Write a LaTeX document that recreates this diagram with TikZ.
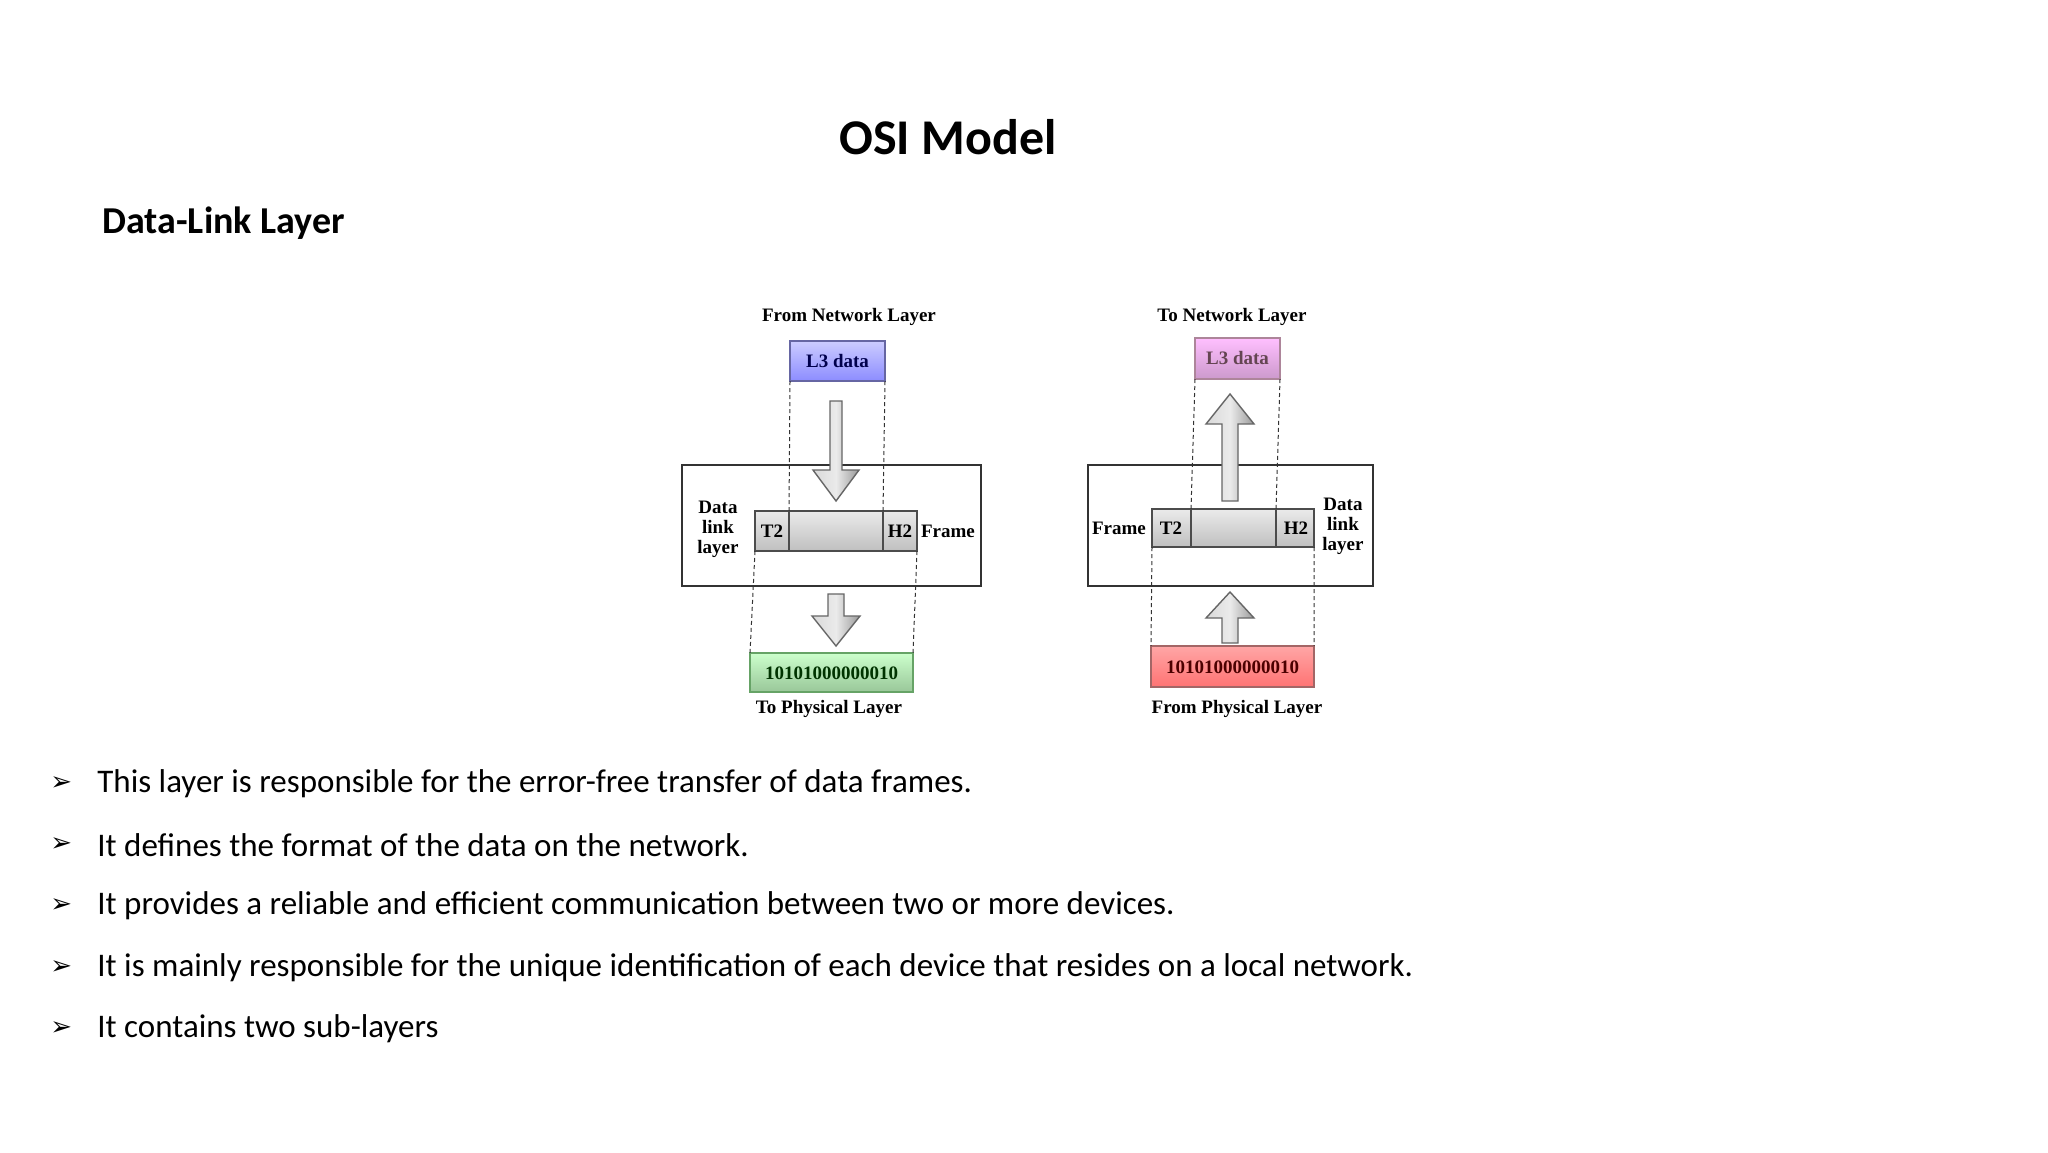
\documentclass[tikz,border=0pt]{standalone}
\usepackage{fontspec}
\setmainfont{Carlito}
\newfontfamily\serifb{Liberation Serif}[Scale=1.0]
\begin{document}
\begin{tikzpicture}[x=0.5pt,y=-0.5pt,
  lbl/.style={font=\serifb\bfseries\fontsize{9.5}{10}\selectfont, inner sep=0pt, align=center},
  box/.style={draw=black!80, line width=0.6pt},
  dsh/.style={draw=black!80, dashed, dash pattern=on 2pt off 1.5pt, line width=0.5pt},
  bar/.style={draw=black!70, line width=0.6pt, top color=black!8, bottom color=black!25},
  arr/.style={draw=black!60, line width=0.7pt, left color=black!15, right color=black!40, middle color=black!8},
  bullet/.style={anchor=west, inner sep=0pt, font=\fontsize{16.5}{18}\selectfont}]
\useasboundingbox (0,0) rectangle (2048,1152);
\fill[white] (0,0) rectangle (2048,1152);
\node[font=\bfseries\fontsize{25}{28}\selectfont] (title) at (948,137) {OSI Model};
\node[anchor=west, inner sep=0pt, font=\bfseries\fontsize{19}{22}\selectfont] (sub) at (102,223) {Data-Link Layer};

% ---------- left diagram ----------
\node[lbl] (fnl) at (849,317) {From Network Layer};
\draw[box, top color=blue!20, bottom color=blue!45, draw=blue!40!black!60] (790,341) rectangle (885,381);
\node[lbl, text=blue!30!black] (l3a) at (837.5,361) {L3 data};
\draw[box] (682,465) rectangle (981,586);
\path[arr] (830,401) -- (842,401) -- (842,470) -- (859,470) -- (836,501) -- (813,470) -- (830,470) -- cycle;
\draw[bar] (755,511) rectangle (917,551);
\draw[black!70, line width=0.6pt] (789,511) -- (789,551) (883,511) -- (883,551);
\node[lbl] (t2a) at (772,531) {T2};
\node[lbl] (h2a) at (900,531) {H2};
\node[lbl] (dll) at (718,529) {Data\\link\\layer};
\node[lbl] (fra) at (948,531) {Frame};
\path[arr] (828,594) -- (844,594) -- (844,616) -- (860,616) -- (836,646) -- (812,616) -- (828,616) -- cycle;
\draw[box, top color=green!20!white, bottom color=green!45!black!40, draw=green!40!black!60] (750,653) rectangle (913,692);
\node[lbl, text=green!20!black] (bina) at (831.5,673) {10101000000010};
\node[lbl] (tpl) at (829,709) {To Physical Layer};
\draw[dsh] (790,381) -- (789,511) (885,381) -- (883,511);
\draw[dsh] (755,551) -- (750,653) (917,551) -- (913,653);

% ---------- right diagram ----------
\node[lbl] (tnl) at (1232,317) {To Network Layer};
\draw[box, top color=magenta!25, bottom color=magenta!50!black!40, draw=magenta!40!black!60] (1195,338) rectangle (1280,379);
\node[lbl, text=magenta!30!black] (l3b) at (1237.5,358) {L3 data};
\draw[box] (1088,465) rectangle (1373,586);
\path[arr] (1222,501) -- (1238,501) -- (1238,424) -- (1254,424) -- (1230,394) -- (1206,424) -- (1222,424) -- cycle;
\draw[bar] (1152,509) rectangle (1314,547);
\draw[black!70, line width=0.6pt] (1191,509) -- (1191,547) (1276,509) -- (1276,547);
\node[lbl] (t2b) at (1171,528) {T2};
\node[lbl] (h2b) at (1296,528) {H2};
\node[lbl] (frb) at (1119,528) {Frame};
\node[lbl] (dlr) at (1343,526) {Data\\link\\layer};
\path[arr] (1222,643) -- (1238,643) -- (1238,618) -- (1254,618) -- (1230,592) -- (1206,618) -- (1222,618) -- cycle;
\draw[box, top color=red!35, bottom color=red!55, draw=red!40!black!60] (1151,646) rectangle (1314,687);
\node[lbl, text=red!30!black] (binb) at (1232.5,667) {10101000000010};
\node[lbl] (fpl) at (1237,709) {From Physical Layer};
\draw[dsh] (1195,379) -- (1191,509) (1280,379) -- (1276,509);
\draw[dsh] (1152,547) -- (1151,646) (1314,547) -- (1314,646);

% ---------- bullets ----------
\foreach \y/\t [count=\i] in {784/This layer is responsible for the error-free transfer of data frames.,
  845/It defines the format of the data on the network.,
  906/It provides a reliable and efficient communication between two or more devices.,
  968/It is mainly responsible for the unique identification of each device that resides on a local network.,
  1029/It contains two sub-layers}{
  \node[bullet] (m\i) at (50,\y) {\fontspec{DejaVu Sans}\fontsize{13}{14}\selectfont ➢};
  \node[bullet] (b\i) at (97,\y) {\t};
}
\end{tikzpicture}
\end{document}
